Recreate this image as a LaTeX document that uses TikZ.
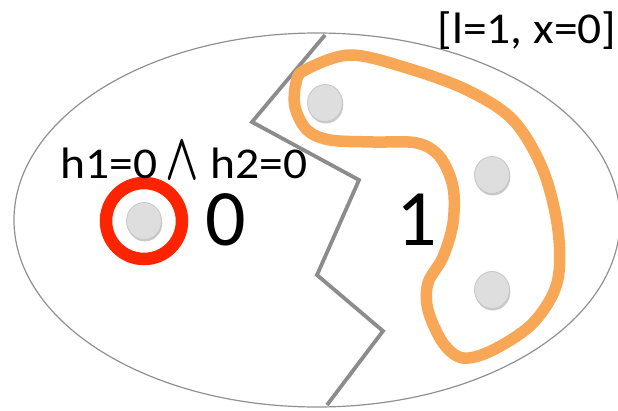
\documentclass[tikz,border=0pt]{standalone}
\usepackage{fontspec}
\setmainfont{Carlito}
\usetikzlibrary{shapes.geometric,shadows}
\definecolor{ringred}{HTML}{FF2400}
\definecolor{loopor}{HTML}{F8A757}
\definecolor{dotfill}{HTML}{DEDEDE}
\definecolor{dotedge}{HTML}{C6C6C6}
\definecolor{zig}{HTML}{8C8C8C}
\definecolor{outline}{HTML}{909090}
\begin{document}
\begin{tikzpicture}[x=1pt,y=-1pt,
  dot/.style={ellipse, minimum width=35pt, minimum height=37pt, inner sep=0pt,
    fill=dotfill, draw=dotedge, line width=0.8pt,
    drop shadow={shadow xshift=0.8pt, shadow yshift=-2pt, opacity=0.35, fill=black!60}},
  lbl/.style={font=\fontsize{44}{44}\selectfont, inner sep=0pt, anchor=base},
  big/.style={font=\fontsize{80}{80}\selectfont, inner sep=0pt, anchor=base},
  zigline/.style={draw=zig, line width=3.8pt, line join=miter},
  loopline/.style={draw=loopor, line width=11.5pt},
  ringline/.style={draw=ringred, line width=12.5pt}
]
\useasboundingbox (0,0) rectangle (618,410);
% outer ellipse
\draw[outline, line width=1.2pt] (317,220) ellipse [x radius=303, y radius=187];
% zigzag border
\draw[zigline] (325,35) -- (252,122) -- (359,180) -- (317,275) -- (383,331) -- (327,405);
% dots
\node[dot] (d0) at (144,221) {};
\node[dot] (d1) at (325,103) {};
\node[dot] (d2) at (492,175) {};
\node[dot] (d3) at (492,290) {};
% orange loop
\draw[loopline] plot[smooth cycle, tension=0.55] coordinates {
  (305,70) (350,55) (407,68) (467,90) (513,120) (543,170) (558,230) (557,283)
  (533,323) (493,350) (463,358) (443,343) (428,310) (428,283) (443,257)
  (453,223) (453,187) (440,157) (417,143) (373,142) (330,140) (307,130)
  (295,107) (296,83)};
% red ring
\draw[ringline] (d0.center) circle [radius=38];
% labels
\node[lbl] (lx) at (527,43) {\scalebox{1.08}[1]{[l=1, x=0]}};
\node[lbl] (hh) at (184,178) {\scalebox{1.08}[1]{h1=0\hspace{7pt}\raisebox{-1pt}{\resizebox{31pt}{37pt}{\boldmath$\wedge$}}\hspace{11pt}h2=0}};
\node[big] (z0) at (226,245) {0};
\node[big] (z1) at (417,245) {1};
\end{tikzpicture}
\end{document}
